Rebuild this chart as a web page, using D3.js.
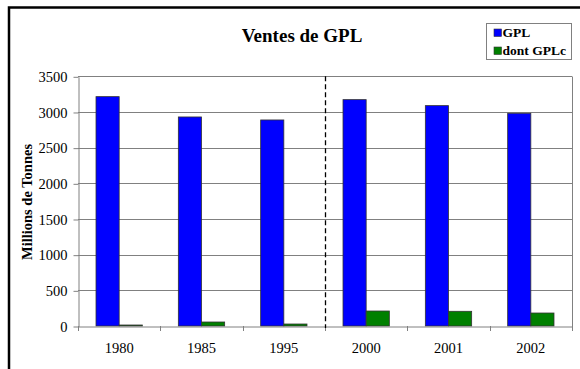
<!DOCTYPE html>
<html>
<head>
<meta charset="utf-8">
<script src="https://cdn.jsdelivr.net/npm/d3@7"></script>
<style>
  html, body { margin: 0; padding: 0; background: #fff; }
  svg { display: block; }
</style>
</head>
<body>
<div id="chart"></div>
<script>
// Sales of LPG, total and the share used as motor fuel (GPLc)
const years = ["1980", "1985", "1995", "2000", "2001", "2002"];
const gpl   = [3215, 2930, 2888, 3173, 3089, 2982];
const gplc  = [14, 56, 28, 210, 206, 182];
const seriesNames = ["GPL", "dont GPLc"];
const seriesColors = ["#0000ff", "#008000"];
const yTicks = [0, 500, 1000, 1500, 2000, 2500, 3000, 3500];

const FONT = '"Liberation Serif"';
const W = 580, H = 369;
const plot = { left: 78, right: 572, top: 76.3, bottom: 326 };

const svg = d3.select("#chart").append("svg")
  .attr("width", W).attr("height", H)
  .style("font-family", FONT);

// outer frame
svg.append("rect")
  .attr("x", 9).attr("y", 7.5)
  .attr("width", W + 20).attr("height", H + 20)
  .attr("fill", "#fff").attr("stroke", "#000").attr("stroke-width", 2.5);

const x = d3.scaleBand().domain(years).range([plot.left, plot.right]).padding(0);
const step = x.bandwidth();
const xSub = d3.scaleBand().domain(seriesNames)
  .range([step * 0.2187, step * (1 - 0.2187)]).padding(0);
const y = d3.scaleLinear().domain([0, 3500]).range([plot.bottom, plot.top]);

// horizontal gridlines
svg.append("g").selectAll("line").data(yTicks.filter(d => d > 0)).join("line")
  .attr("x1", plot.left).attr("x2", plot.right)
  .attr("y1", d => Math.round(y(d)) + 0.5).attr("y2", d => Math.round(y(d)) + 0.5)
  .attr("stroke", "#808080").attr("stroke-width", 1);

// right border of plot area
svg.append("line")
  .attr("x1", plot.right + 0.5).attr("x2", plot.right + 0.5)
  .attr("y1", Math.round(y(3500)) + 0.5).attr("y2", plot.bottom)
  .attr("stroke", "#808080");

// bars
const rows = years.map((yr, i) => ({ year: yr, values: [gpl[i], gplc[i]] }));
const groups = svg.append("g").selectAll("g").data(rows).join("g")
  .attr("transform", d => `translate(${x(d.year)},0)`);
groups.selectAll("rect")
  .data(d => d.values.map((v, j) => ({ name: seriesNames[j], value: v, color: seriesColors[j] })))
  .join("rect")
  .attr("x", d => xSub(d.name))
  .attr("width", xSub.bandwidth())
  .attr("y", d => y(d.value))
  .attr("height", d => y(0) - y(d.value))
  .attr("fill", d => d.color)
  .attr("stroke", "#333")
  .attr("stroke-width", 0.8);

// y axis
const yAxis = d3.axisLeft(y).tickValues(yTicks).tickFormat(d3.format("d"))
  .tickSize(5).tickPadding(6).tickSizeOuter(0);
const gy = svg.append("g").attr("transform", `translate(${plot.left + 0.5},0.5)`).call(yAxis);
gy.attr("font-family", null);
gy.select(".domain").attr("stroke", "#808080");
gy.selectAll(".tick line").attr("stroke", "#808080");
gy.selectAll(".tick text").attr("font-size", 14.5).style("font-family", FONT);

// x axis
const xAxis = d3.axisBottom(x).tickSize(0).tickPadding(16);
const gx = svg.append("g").attr("transform", `translate(0,${plot.bottom + 0.5})`).call(xAxis);
gx.attr("font-family", null);
gx.select(".domain").attr("stroke", "#808080");
gx.selectAll(".tick text").attr("font-size", 14.5).style("font-family", FONT);
// category boundary ticks
svg.append("g").selectAll("line").data(years.concat(["end"])).join("line")
  .attr("x1", (d, i) => Math.round(plot.left + i * step) + 0.5)
  .attr("x2", (d, i) => Math.round(plot.left + i * step) + 0.5)
  .attr("y1", plot.bottom).attr("y2", plot.bottom + 5)
  .attr("stroke", "#808080");

// dashed separator between 1995 and 2000
const sepX = Math.round(x("2000")) + 0.5;
svg.append("line")
  .attr("x1", sepX).attr("x2", sepX)
  .attr("y1", y(3500)).attr("y2", plot.bottom + 2)
  .attr("stroke", "#000").attr("stroke-width", 1.3)
  .attr("stroke-dasharray", "5,3");

// title
svg.append("text")
  .attr("x", 302).attr("y", 42)
  .attr("text-anchor", "middle")
  .attr("font-size", 19).attr("font-weight", "bold")
  .style("font-family", FONT)
  .text("Ventes de GPL");

// y axis title
svg.append("text")
  .attr("transform", "translate(32,202) rotate(-90)")
  .attr("text-anchor", "middle")
  .attr("font-size", 14.5).attr("font-weight", "bold")
  .style("font-family", FONT)
  .text("Millions de Tonnes");

// legend
const lg = svg.append("g").attr("transform", "translate(486.5,23.5)");
lg.append("rect").attr("width", 85).attr("height", 36)
  .attr("fill", "#fff").attr("stroke", "#808080");
seriesNames.forEach((name, i) => {
  const row = lg.append("g").attr("transform", `translate(7.5,${5.5 + i * 18})`);
  row.append("rect").attr("width", 7.5).attr("height", 7.5).attr("y", 0)
    .attr("fill", seriesColors[i]).attr("stroke", "#333").attr("stroke-width", 0.6);
  row.append("text").attr("x", 8.5).attr("y", 8)
    .attr("font-size", 13.5).attr("font-weight", "bold")
    .style("font-family", FONT)
    .text(name);
});
</script>
</body>
</html>
